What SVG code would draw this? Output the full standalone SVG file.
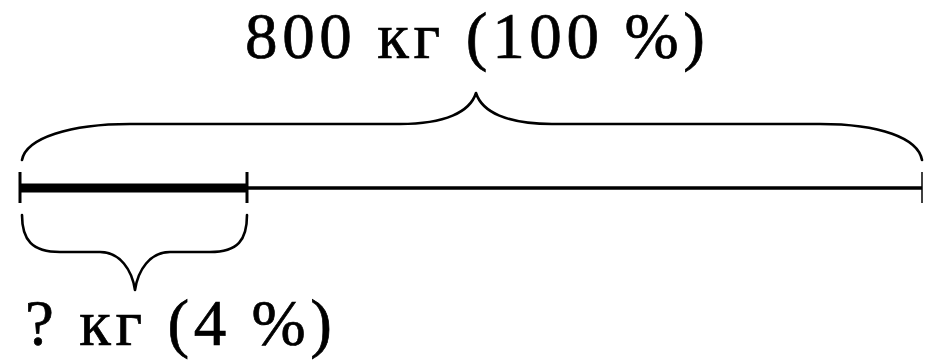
<svg xmlns="http://www.w3.org/2000/svg" width="925" height="362" viewBox="0 0 925 362">
<style>
.lbl{font-family:"Liberation Serif","DejaVu Serif",serif;font-size:65px;fill:#000;stroke:#000;stroke-width:0.7}
.br{fill:none;stroke:#000;stroke-width:2.6;stroke-linecap:round;stroke-linejoin:round}
.tk{stroke:#000;stroke-width:3}
</style>
<rect width="925" height="362" fill="#fff"/>
<g id="segment-line">
<line x1="20" y1="188" x2="922" y2="188" stroke="#000" stroke-width="3.4"/>
<line x1="20" y1="188" x2="247" y2="188" stroke="#000" stroke-width="9"/>
<line class="tk" x1="20" y1="172" x2="20" y2="203"/>
<line class="tk" x1="247" y1="172" x2="247" y2="203"/>
<line x1="922" y1="172" x2="922" y2="203" stroke="#000" stroke-width="1.5"/>
</g>
<g id="connectors">
<path id="top-brace" class="br" d="M22 160 C26 138 70 124 130 124 L400 124 C445 124 470 112 476 93 C482 112 507 124 552 124 L820 124 C880 124 918 138 922 160"/>
<path id="bottom-brace" class="br" d="M22 215 C22 240 32 252 60 252 L100 252 C120 252 132 270 135 290 C138 270 150 252 170 252 L210 252 C238 252 247 240 247 215"/>
</g>
<g id="label-total">
<text class="lbl" x="245" y="58" textLength="460" lengthAdjust="spacing">800 кг (100 %)</text>
</g>
<g id="label-part">
<text class="lbl" x="25" y="345" textLength="307" lengthAdjust="spacing">? кг (4 %)</text>
</g>
</svg>
